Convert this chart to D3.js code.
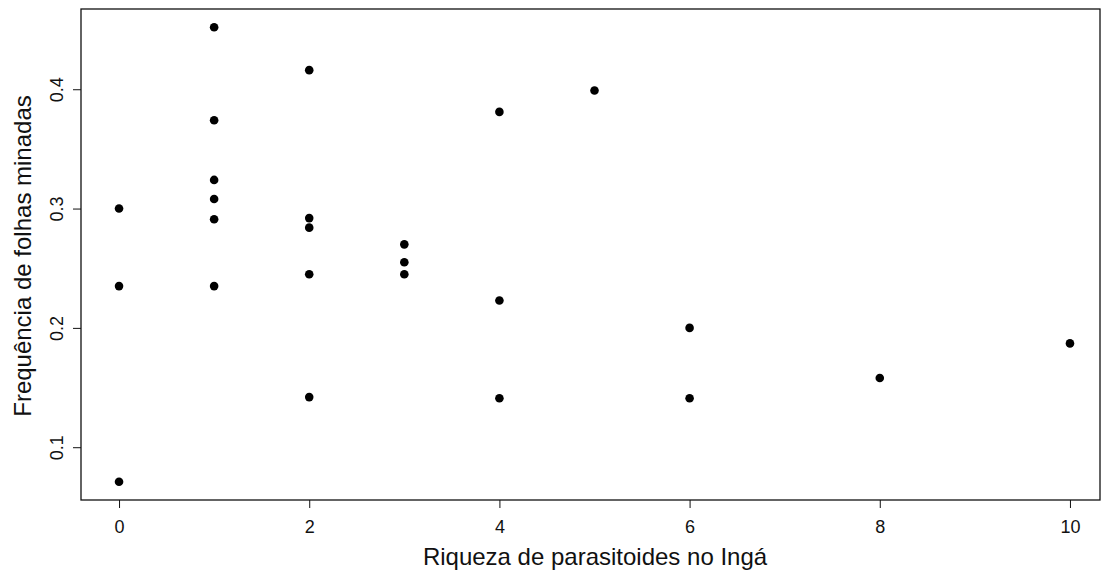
<!DOCTYPE html>
<html>
<head>
<meta charset="utf-8">
<script src="https://cdn.jsdelivr.net/npm/d3@7"></script>
<style>
  html, body { margin: 0; padding: 0; background: #fff; }
  svg { display: block; font-family: Arial, "Liberation Sans", sans-serif; }
</style>
</head>
<body>
<svg id="chart" width="1103" height="577"></svg>
<script>
// Parasitoid richness (x) vs. frequency of mined leaves (y)
const riqueza = [0, 0, 0, 1, 1, 1, 1, 1, 1, 2, 2, 2, 2, 2, 3, 3, 3, 4, 4, 4, 5, 6, 6, 8, 10];
const frequencia = [0.300, 0.235, 0.071, 0.452, 0.374, 0.324, 0.308, 0.291, 0.235,
                    0.416, 0.292, 0.284, 0.245, 0.142, 0.270, 0.255, 0.245,
                    0.381, 0.223, 0.141, 0.399, 0.200, 0.141, 0.158, 0.187];
const xTicks = [0, 2, 4, 6, 8, 10];
const yTicks = [0.1, 0.2, 0.3, 0.4];
const xTitle = "Riqueza de parasitoides no Ingá";
const yTitle = "Frequência de folhas minadas";

const svg = d3.select("#chart");
const box = { left: 81, right: 1100, top: 9, bottom: 500 };

// 4% padding on each side of the data range
const xExt = d3.extent(riqueza), yExt = d3.extent(frequencia);
const xPad = (xExt[1] - xExt[0]) * 0.04, yPad = (yExt[1] - yExt[0]) * 0.04;
const x = d3.scaleLinear().domain([xExt[0] - xPad, xExt[1] + xPad]).range([box.left, 1108]);
const y = d3.scaleLinear().domain([yExt[0] - yPad, yExt[1] + yPad]).range([box.bottom, box.top]);

const ink = "#111";

// plot frame
svg.append("rect")
  .attr("x", box.left).attr("y", box.top)
  .attr("width", box.right - box.left).attr("height", box.bottom - box.top)
  .attr("fill", "none").attr("stroke", ink).attr("stroke-width", 1.3);

// x axis
const xAxis = svg.append("g").attr("transform", `translate(0,${box.bottom})`)
  .call(d3.axisBottom(x).tickValues(xTicks).tickSize(8).tickPadding(12).tickFormat(d3.format("d")));
xAxis.select(".domain").remove();
xAxis.selectAll("line").attr("stroke", ink).attr("stroke-width", 1);
xAxis.selectAll("text").attr("font-size", 18).attr("fill", ink)
  .attr("font-family", "Arial, 'Liberation Sans', sans-serif");

// y axis with rotated labels
const yAxis = svg.append("g").attr("transform", `translate(${box.left},0)`)
  .call(d3.axisLeft(y).tickValues(yTicks).tickSize(8).tickFormat(d3.format(".1f")));
yAxis.select(".domain").remove();
yAxis.selectAll("line").attr("stroke", ink).attr("stroke-width", 1);
yAxis.selectAll("text")
  .attr("x", null).attr("dy", null)
  .attr("font-size", 18).attr("fill", ink)
  .attr("font-family", "Arial, 'Liberation Sans', sans-serif")
  .attr("text-anchor", "middle")
  .attr("transform", "translate(-18,0) rotate(-90)");

// points
svg.append("g").selectAll("circle")
  .data(riqueza.map((r, i) => [r, frequencia[i]]))
  .join("circle")
  .attr("cx", d => x(d[0]))
  .attr("cy", d => y(d[1]))
  .attr("r", 4.3)
  .attr("fill", "#000");

// axis titles
svg.append("text")
  .attr("x", 595).attr("y", 565)
  .attr("text-anchor", "middle").attr("font-size", 24).attr("fill", ink)
  .text(xTitle);

svg.append("text")
  .attr("transform", "translate(31,256) rotate(-90)")
  .attr("text-anchor", "middle").attr("font-size", 24).attr("fill", ink)
  .text(yTitle);
</script>
</body>
</html>
